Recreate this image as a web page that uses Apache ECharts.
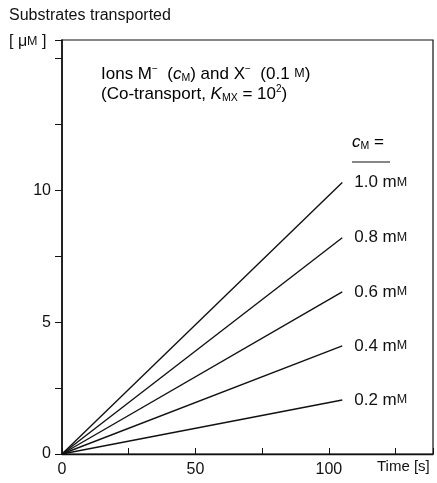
<!DOCTYPE html>
<html lang="en">
<head>
    <meta charset="UTF-8">
    <title>Substrates transported</title>
    <script src="https://cdn.jsdelivr.net/npm/echarts@6/dist/echarts.min.js"></script>
    <style>
        html, body { margin: 0; padding: 0; background: #fff; }
    </style>
</head>
<body>
<div id="main" style="width: 437px;height:483px;"></div>
<script>
    // values
    let times = [0, 105];
    let concLabels = ['0.2', '0.4', '0.6', '0.8', '1.0'];
    let endValues = [2.05, 4.1, 6.15, 8.2, 10.3];
    let xLabels = [0, 50, 100];
    let yLabels = [0, 5, 10];

    var myChart = echarts.init(document.getElementById('main'));
    let font = 'Liberation Sans';

    let rich = {
        n: { fontFamily: font, fontSize: 17, color: '#111' },
        sc: { fontFamily: font, fontSize: 12.5, color: '#111' },
        sup: { fontFamily: font, fontSize: 10, color: '#111', padding: [0, 0, 10, 0] },
        it: { fontFamily: font, fontSize: 17, fontStyle: 'italic', color: '#111' },
        sub: { fontFamily: font, fontSize: 10.5, color: '#111', padding: [8, 0, 0, 0] }
    };

    let series = [];
    for (let i = 0; i < concLabels.length; i++) {
        series.push({
            name: concLabels[i],
            type: 'line',
            data: [[times[0], 0], [times[1], endValues[i]]],
            symbol: 'none',
            silent: true,
            lineStyle: { color: '#111', width: 1.4 },
            endLabel: {
                show: true,
                distance: 12,
                formatter: '{n|' + concLabels[i] + ' m}{sc|M}',
                rich: rich
            }
        });
    }

    let option = {
        backgroundColor: '#fff',
        animation: false,
        grid: { left: 62, top: 40, right: 4, bottom: 29, show: true, borderColor: '#111', borderWidth: 1.2 },
        xAxis: {
            type: 'value',
            min: 0, max: 139, interval: 25,
            axisLine: { lineStyle: { color: '#111', width: 1.4 } },
            axisTick: { inside: true, length: 6, lineStyle: { color: '#111' } },
            axisLabel: {
                margin: 8, fontFamily: font, fontSize: 16, color: '#111',
                formatter: v => xLabels.includes(v) ? String(v) : ''
            },
            splitLine: { show: false }
        },
        yAxis: {
            type: 'value',
            min: 0, max: 15.7, interval: 2.5,
            axisLine: { show: true, lineStyle: { color: '#111', width: 1.6 } },
            axisTick: { show: true, length: 7, lineStyle: { color: '#111' } },
            axisLabel: {
                margin: 11, fontFamily: font, fontSize: 16, color: '#111',
                formatter: v => yLabels.includes(v) ? String(v) : ''
            },
            splitLine: { show: false }
        },
        graphic: [
            { type: 'text', left: 9, top: 8, style: { text: 'Substrates transported', font: '16px ' + font, fill: '#111' } },
            { type: 'text', left: 9, top: 34, style: { text: '[ μ{sc|M} ]', rich: { sc: rich.sc }, font: '16px ' + font, fill: '#111' } },
            { type: 'text', left: 101, top: 64, style: {
                text: '{n|Ions M}{sup|−}{n|  (}{it|c}{sub|M}{n|) and X}{sup|−}{n|  (0.1 }{sc|M}{n|)}',
                rich: rich } },
            { type: 'text', left: 101, top: 84, style: {
                text: '{n|(Co-transport, }{it|K}{sub|MX}{n| = 10}{sup|2}{n|)}',
                rich: rich } },
            { type: 'text', left: 352, top: 134, style: {
                text: '{it|c}{sub|M}{n| =}', rich: rich } },
            { type: 'line', shape: { x1: 352, y1: 162, x2: 390, y2: 162 }, style: { stroke: '#111', lineWidth: 1.2 } },
            { type: 'text', left: 377, top: 459, style: { text: 'Time [s]', font: '15px ' + font, fill: '#111' } }
        ],
        series
    };

    myChart.setOption(option);
</script>
</body>
</html>
